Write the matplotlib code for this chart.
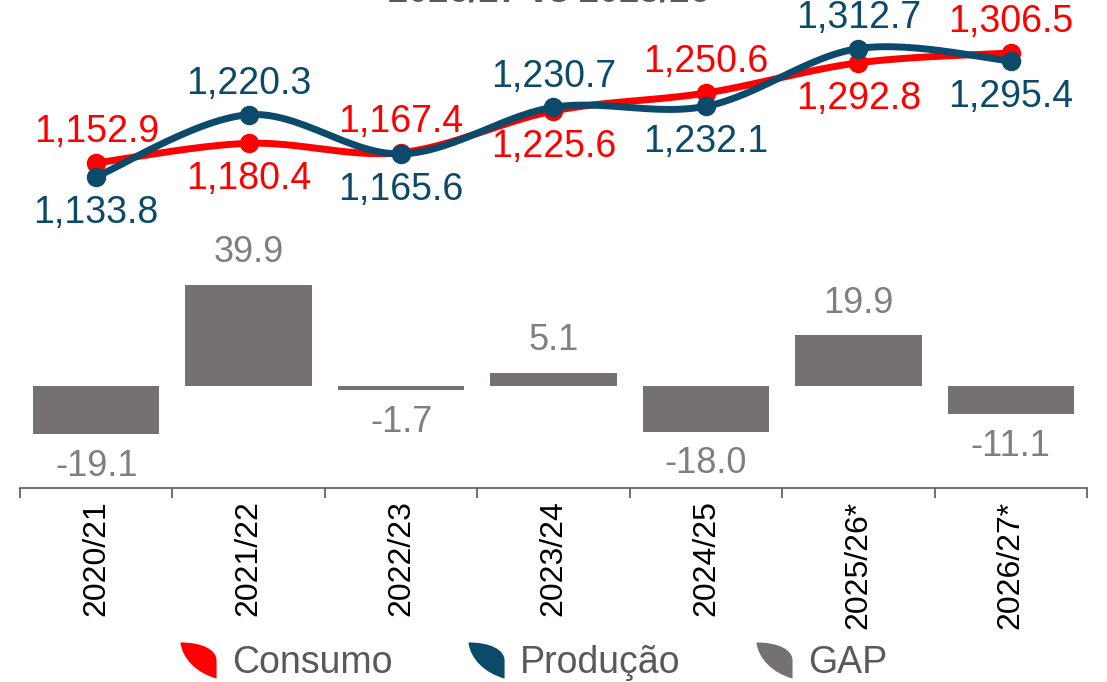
import numpy as np
import matplotlib
matplotlib.use("Agg")
import matplotlib.pyplot as plt
from matplotlib.path import Path
from matplotlib.lines import Line2D

plt.rcParams['font.family'] = ['Liberation Sans', 'DejaVu Sans']

categories = ["2020/21", "2021/22", "2022/23", "2023/24", "2024/25", "2025/26*", "2026/27*"]
consumo = [1152.9, 1180.4, 1167.4, 1225.6, 1250.6, 1292.8, 1306.5]
producao = [1133.8, 1220.3, 1165.6, 1230.7, 1232.1, 1312.7, 1295.4]
gap = [-19.1, 39.9, -1.7, 5.1, -18.0, 19.9, -11.1]
consumo_label_pos = ["above", "below", "above", "below", "above", "below", "above"]
producao_label_pos = ["below", "above", "below", "above", "below", "above", "below"]
title_text = "2026/27 vs 2025/26"

RED = "#ff0000"
BLUE = "#0b4a6b"
GRAY = "#767171"
LABEL_GRAY = "#7f7f7f"
AXIS = "#595959"

W, H = 1107, 682
fig = plt.figure(figsize=(W / 100, H / 100), dpi=100)

def fig_rect(x0, y0, x1, y1):
    return [x0 / W, 1 - y1 / H, (x1 - x0) / W, (y1 - y0) / H]

x = np.arange(len(categories))
X0, X1 = 20, 1087

# Bars axes
axb = fig.add_axes(fig_rect(X0, 250, X1, 488))
axb.bar(x, gap, width=0.83, color=GRAY, zorder=2)
axb.set_xlim(-0.5, len(categories) - 0.5)
axb.set_ylim(-40.2, 53.5)
for s in ["top", "right", "left"]:
    axb.spines[s].set_visible(False)
axb.spines["bottom"].set_color(AXIS)
axb.spines["bottom"].set_linewidth(1.2)
axb.set_yticks([])
axb.set_xticks(x)
axb.set_xticklabels(categories, rotation=90, fontsize=23, color="black", va="top")
axb.set_xticks(np.arange(-0.5, len(categories)), minor=True)
axb.tick_params(axis="x", which="major", length=0, pad=9)
axb.tick_params(axis="x", which="minor", length=7, width=1.2, color=AXIS, direction="out")
for xi, v in zip(x, gap):
    off = 23 if v >= 0 else -23
    axb.annotate(f"{v:.1f}", (xi, v), xytext=(0, off), textcoords="offset points",
                 ha="center", va="center", fontsize=26, color=LABEL_GRAY)
axb.patch.set_alpha(0)

# Lines axes
axl = fig.add_axes(fig_rect(X0, 0, X1, 250))
axl.set_xlim(-0.5, len(categories) - 0.5)
axl.set_ylim(1031.4, 1380.5)
axl.axis("off")

def catmull_rom(xs, ys, n=30):
    xs = np.asarray(xs, float); ys = np.asarray(ys, float)
    P = np.column_stack([xs, ys])
    P = np.vstack([P[0], P, P[-1]])
    out = []
    for i in range(1, len(P) - 2):
        p0, p1, p2, p3 = P[i - 1], P[i], P[i + 1], P[i + 2]
        t = np.linspace(0, 1, n)[:, None]
        seg = 0.5 * ((2 * p1) + (-p0 + p2) * t + (2 * p0 - 5 * p1 + 4 * p2 - p3) * t ** 2
                     + (-p0 + 3 * p1 - 3 * p2 + p3) * t ** 3)
        out.append(seg if i == 1 else seg[1:])
    out = np.vstack(out)
    return out[:, 0], out[:, 1]

for vals, col, pos, z in [(consumo, RED, consumo_label_pos, 3), (producao, BLUE, producao_label_pos, 4)]:
    sx, sy = catmull_rom(x, vals)
    axl.plot(sx, sy, color=col, lw=5, solid_capstyle="round", zorder=z)
    axl.plot(x, vals, "o", color=col, ms=13, zorder=z)
    for xi, v, p in zip(x, vals, pos):
        off = 22 if p == "above" else -26
        axl.annotate(f"{v:,.1f}", (xi, v), xytext=(0, off), textcoords="offset points",
                     ha="center", va="center", fontsize=27, color=col, zorder=6)

# Title (cut off at top, as in the reference)
fig.text(0.496, 1 - 1 / H, title_text, ha="center", va="baseline", fontsize=26,
         fontweight="bold", color="#595959")

# Legend with leaf-shaped icons (path centred on origin)
leaf = Path([(-1, 1), (0.2, 1), (1, 0.6), (1, 0), (1, -1), (1, -1), (1, -1),
             (-0.1, -0.7), (-0.9, 0.1), (-1, 1), (-1, 1)],
            [Path.MOVETO, Path.CURVE4, Path.CURVE4, Path.CURVE4, Path.LINETO, Path.LINETO, Path.LINETO,
             Path.CURVE4, Path.CURVE4, Path.CURVE4, Path.CLOSEPOLY])
handles = [Line2D([], [], marker=leaf, ls="none", color=c, markersize=26, markeredgewidth=0)
           for c in (RED, BLUE, GRAY)]
fig.legend(handles, ["Consumo", "Produção", "GAP"], loc="center", bbox_to_anchor=(0.482, 1 - 663 / H),
           ncol=3, frameon=False, fontsize=27, labelcolor="#595959", handlelength=1.0,
           handletextpad=0.4, columnspacing=2.0)

fig.savefig("out.png", dpi=100)
